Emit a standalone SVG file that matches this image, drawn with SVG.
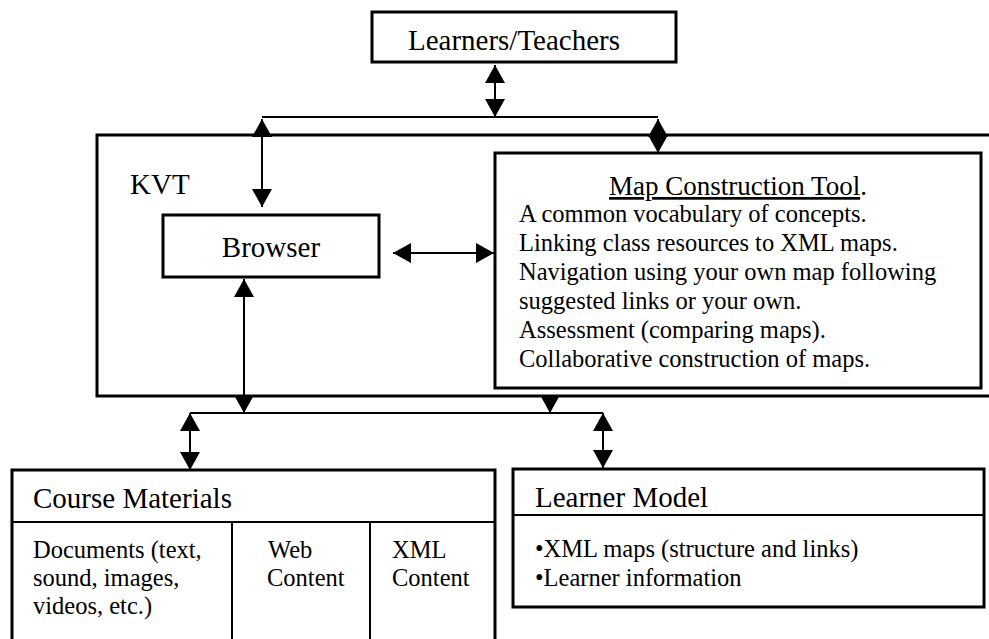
<svg xmlns="http://www.w3.org/2000/svg" width="989" height="639" viewBox="0 0 989 639">
<style>
text{font-family:"Liberation Serif","Times New Roman",serif;fill:#000}
.big{font-size:29px}
.head{font-size:27px}
.body{font-size:24.5px}
.box{fill:#fff;stroke:#000;stroke-width:3}
.div{stroke:#000;stroke-width:2;fill:none}
.con{stroke:#000;stroke-width:2;fill:none}
.arr{stroke:#000;stroke-width:2;fill:none;marker-start:url(#ah);marker-end:url(#ah)}
.arr1{stroke:#000;stroke-width:2;fill:none;marker-end:url(#ah)}
</style>
<defs>
<marker id="ah" markerUnits="userSpaceOnUse" markerWidth="18" markerHeight="20" refX="18" refY="10" orient="auto-start-reverse" viewBox="0 0 18 20">
<path d="M0,0 L18,10 L0,20 z" fill="#000"/>
</marker>
</defs>
<rect width="989" height="639" fill="#fff"/>
<g id="kvt">
<rect class="box" x="97" y="135" width="910" height="261"/>
<text class="big" x="130" y="194">KVT</text>
</g>
<g id="learners">
<rect class="box" x="372" y="12" width="304" height="50"/>
<text class="big" x="514" y="50" text-anchor="middle">Learners/Teachers</text>
</g>
<g id="browser">
<rect class="box" x="163" y="215" width="216" height="62"/>
<text class="big" x="271" y="257" text-anchor="middle">Browser</text>
</g>
<g id="map-tool">
<rect class="box" x="495" y="153" width="486" height="235"/>
<text class="head" x="738" y="195" text-anchor="middle"><tspan style="text-decoration:underline">Map Construction Tool</tspan>.</text>
<text class="body" x="519" y="222">A common vocabulary of concepts.</text>
<text class="body" x="519" y="251">Linking class resources to XML maps.</text>
<text class="body" x="519" y="280">Navigation using your own map following</text>
<text class="body" x="519" y="309">suggested links or your own.</text>
<text class="body" x="519" y="338">Assessment (comparing maps).</text>
<text class="body" x="519" y="367">Collaborative construction of maps.</text>
</g>
<g id="course-materials">
<rect class="box" x="12" y="470" width="483" height="180"/>
<line class="div" x1="12" y1="522" x2="495" y2="522"/>
<line class="div" x1="232" y1="522" x2="232" y2="650"/>
<line class="div" x1="370" y1="522" x2="370" y2="650"/>
<text class="big" x="33" y="508">Course Materials</text>
<text class="body" x="33" y="558">Documents (text,</text>
<text class="body" x="33" y="586">sound, images,</text>
<text class="body" x="33" y="614">videos, etc.)</text>
<text class="body" x="268" y="558">Web</text>
<text class="body" x="267" y="586">Content</text>
<text class="body" x="392" y="558">XML</text>
<text class="body" x="392" y="586">Content</text>
</g>
<g id="learner-model">
<rect class="box" x="513" y="469" width="471" height="138"/>
<line class="div" x1="513" y1="515" x2="984" y2="515"/>
<text class="big" x="535" y="507">Learner Model</text>
<text class="body" x="535" y="557">•XML maps (structure and links)</text>
<text class="body" x="535" y="586">•Learner information</text>
</g>
<g id="connectors">
<line class="con" x1="262" y1="117" x2="658" y2="117"/>
<line class="arr" x1="495" y1="65" x2="495" y2="117"/>
<line class="arr" x1="262" y1="119" x2="262" y2="207"/>
<line class="arr" x1="658" y1="119" x2="658" y2="153"/>
<line class="arr" x1="393" y1="253" x2="494" y2="253"/>
<line class="arr" x1="244" y1="279" x2="244" y2="413"/>
<line class="arr1" x1="550" y1="396" x2="550" y2="413"/>
<line class="con" x1="190" y1="413" x2="603" y2="413"/>
<line class="arr" x1="190" y1="413" x2="190" y2="470"/>
<line class="arr" x1="603" y1="413" x2="603" y2="468"/>
</g>
</svg>
